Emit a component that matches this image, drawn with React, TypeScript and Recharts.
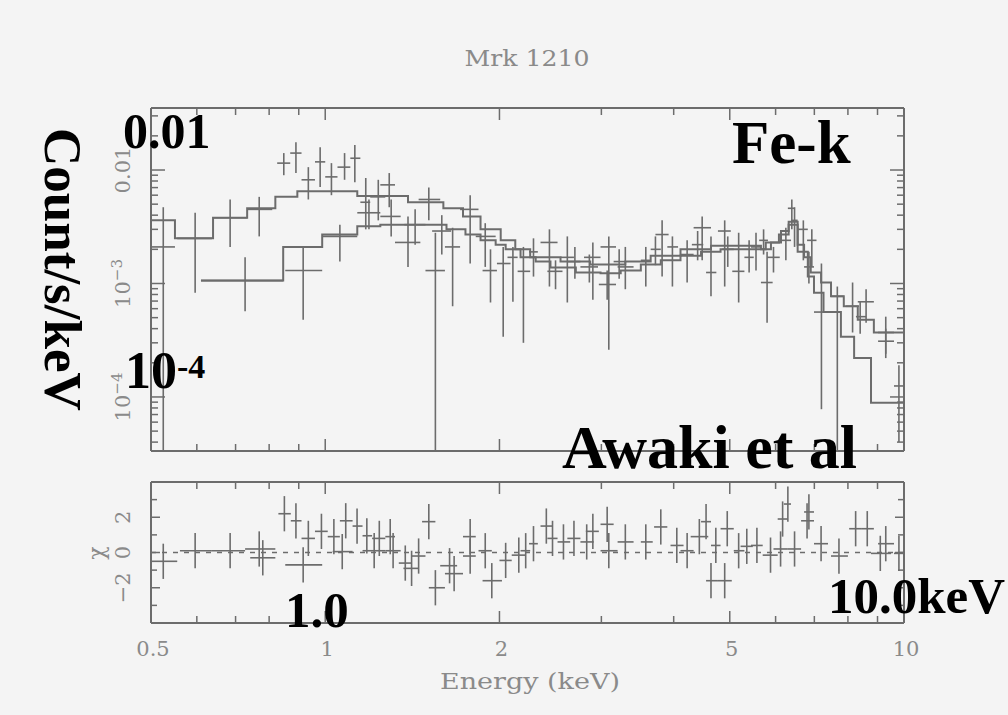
import React from 'react';
import { ComposedChart, Line, Scatter, ErrorBar, XAxis, YAxis, ReferenceLine } from 'recharts';

const INK = '#6c6c6c';
const TEXT = '#8a8a8a';
const PAPER = '#f4f4f4';

// energy axis (keV, log)
const energyTicks = [0.5, 0.6, 0.7, 0.8, 0.9, 1, 2, 3, 4, 5, 6, 7, 8, 9, 10];
const energyLabels = ['0.5', '1', '2', '5', '10'];

// count rate axis (counts/s/keV, log)
const rateTicks = [
  4e-5, 5e-5, 6e-5, 7e-5, 8e-5, 9e-5,
  1e-4, 2e-4, 3e-4, 4e-4, 5e-4, 6e-4, 7e-4, 8e-4, 9e-4,
  1e-3, 2e-3, 3e-3, 4e-3, 5e-3, 6e-3, 7e-3, 8e-3, 9e-3,
  0.01, 0.02, 0.03,
];
const rateDecades = [1e-4, 1e-3, 0.01];

// residual axis
const chiTicks = [-3, -2, -1, 0, 1, 2, 3];
const chiLabels = [-2, 0, 2];
const CHI_ERR = 1;

// spectrum A: bin centre / edges (keV), rate and its error range
const aE = [0.525, 0.596, 0.685, 0.769, 0.848, 0.89, 0.935, 0.98, 1.025, 1.08, 1.125, 1.175, 1.235, 1.29, 1.39, 1.51, 1.55, 1.66, 1.78, 1.93, 2.2, 2.44, 2.62, 2.86, 3.07, 3.3, 3.82, 4.22, 4.64, 4.96, 5.18, 5.8, 6.25, 6.47, 6.93, 7.2, 7.67, 8.4, 9.3, 9.8];
const aELo = [0.5, 0.555, 0.64, 0.733, 0.826, 0.87, 0.91, 0.96, 1.0, 1.05, 1.105, 1.15, 1.196, 1.245, 1.32, 1.45, 1.49, 1.61, 1.71, 1.87, 2.15, 2.355, 2.55, 2.76, 2.97, 3.2, 3.72, 4.11, 4.55, 4.85, 5.05, 5.66, 6.13, 6.38, 6.8, 6.99, 7.48, 8.26, 9.02, 9.61];
const aEHi = [0.55, 0.637, 0.733, 0.81, 0.87, 0.91, 0.96, 1.0, 1.05, 1.105, 1.15, 1.196, 1.27, 1.32, 1.46, 1.58, 1.61, 1.71, 1.84, 1.98, 2.26, 2.52, 2.69, 2.96, 3.18, 3.41, 3.92, 4.33, 4.74, 5.08, 5.3, 5.93, 6.38, 6.55, 7.06, 7.39, 7.87, 8.6, 9.61, 10];
const aRate = [0.0021, 0.0025, 0.0038, 0.0045, 0.0115, 0.0141, 0.0082, 0.0118, 0.0087, 0.0106, 0.0127, 0.0052, 0.0058, 0.0074, 0.0023, 0.0055, 0.0013, 0.0021, 0.0045, 0.0013, 0.00128, 0.0023, 0.0017, 0.0014, 0.00098, 0.0014, 0.0027, 0.0018, 0.00125, 0.002, 0.00128, 0.00102, 0.0024, 0.0036, 0.0024, 0.00056, 0.00077, 0.00051, 0.00031, 0.000125];
const aRateLo = [3.4e-5, 0.00083, 0.0021, 0.0026, 0.009, 0.0094, 0.0055, 0.0071, 0.006, 0.0082, 0.0078, 0.003, 0.0036, 0.0047, 0.0014, 0.0036, 3.4e-5, 0.00063, 0.0015, 0.00068, 0.0003, 0.00094, 0.00068, 0.00102, 0.00072, 0.00089, 0.00115, 0.00102, 0.00077, 0.0014, 0.00068, 0.00045, 0.0016, 0.0021, 0.0014, 0.000078, 3.4e-5, 0.00036, 0.00024, 0.00004];
const aRateHi = [0.0047, 0.0042, 0.0055, 0.0058, 0.0141, 0.0176, 0.0106, 0.0159, 0.0115, 0.0141, 0.0166, 0.0085, 0.0082, 0.0094, 0.0039, 0.007, 0.0028, 0.0031, 0.006, 0.002, 0.0021, 0.003, 0.0026, 0.0018, 0.0013, 0.0021, 0.0036, 0.0024, 0.0026, 0.0026, 0.0028, 0.0019, 0.0031, 0.0047, 0.003, 0.0015, 0.00094, 0.0007, 0.0004, 0.00019];

// spectrum B
const bE = [0.727, 0.916, 1.06, 1.19, 1.3, 1.43, 1.59, 1.89, 2.03, 2.11, 2.29, 2.5, 2.7, 2.9, 3.09, 3.22, 3.58, 3.72, 3.98, 4.4, 4.48, 4.9, 5.4, 5.55, 5.72, 5.95, 6.4, 6.7, 6.85, 8.15, 8.6, 9.3];
const bELo = [0.61, 0.853, 0.99, 1.136, 1.245, 1.37, 1.53, 1.82, 1.98, 2.065, 2.25, 2.42, 2.62, 2.8, 2.99, 3.15, 3.51, 3.65, 3.9, 4.3, 4.33, 4.77, 5.3, 5.44, 5.62, 5.8, 6.3, 6.55, 6.72, 7.94, 8.32, 9.02];
const bEHi = [0.846, 0.988, 1.136, 1.245, 1.35, 1.49, 1.65, 1.97, 2.09, 2.15, 2.33, 2.57, 2.76, 2.99, 3.18, 3.3, 3.65, 3.8, 4.07, 4.5, 4.64, 5.02, 5.5, 5.66, 5.82, 6.1, 6.47, 6.82, 6.99, 8.36, 8.87, 9.61];
const bRate = [0.00106, 0.0013, 0.0026, 0.0042, 0.0039, 0.0033, 0.0029, 0.0026, 0.0015, 0.0017, 0.0019, 0.00128, 0.00156, 0.0017, 0.0021, 0.00156, 0.0016, 0.002, 0.0021, 0.0022, 0.0031, 0.0029, 0.0017, 0.0021, 0.0024, 0.0017, 0.0046, 0.003, 0.0014, 0.00063, 0.00069, 0.00037];
const bRateLo = [0.00057, 0.00048, 0.00156, 0.003, 0.0026, 0.0022, 0.0018, 0.0014, 0.00034, 0.00069, 0.00115, 0.00089, 0.0011, 0.00072, 0.00026, 0.0011, 0.00094, 0.00145, 0.00094, 0.0016, 0.0016, 0.00094, 0.00125, 0.0013, 0.0018, 0.00125, 0.003, 0.0016, 0.001, 0.00037, 0.00045, 0.00022];
const bRateHi = [0.0017, 0.0021, 0.0033, 0.0055, 0.0055, 0.0045, 0.004, 0.0034, 0.0021, 0.0021, 0.0025, 0.0016, 0.0021, 0.0023, 0.0026, 0.002, 0.0021, 0.0026, 0.0026, 0.0029, 0.0039, 0.0036, 0.0024, 0.0028, 0.003, 0.0021, 0.0055, 0.0036, 0.0019, 0.00102, 0.00089, 0.00051];

// folded models (step start energy, level); last entry closes the final bin
const modelAE = [0.5, 0.55, 0.64, 0.733, 0.82, 0.895, 1.136, 1.39, 1.6, 1.73, 1.855, 2.01, 2.13, 2.26, 2.55, 2.87, 3.3, 3.65, 4.11, 4.64, 5.33, 5.66, 5.89, 6.13, 6.32, 6.55, 6.82, 6.99, 7.26, 7.78, 8.2, 8.77, 10];
const modelA = [0.0036, 0.0025, 0.0038, 0.0046, 0.0058, 0.0065, 0.0059, 0.0052, 0.0046, 0.0039, 0.003, 0.0024, 0.002, 0.0017, 0.00156, 0.00147, 0.00156, 0.00176, 0.002, 0.00215, 0.00215, 0.002, 0.0023, 0.0029, 0.0035, 0.0019, 0.00115, 0.00083, 0.00056, 0.00034, 0.00022, 0.000089, 0.000089];
const modelBE = [0.61, 0.846, 0.988, 1.136, 1.245, 1.62, 1.747, 1.855, 1.97, 2.05, 2.175, 2.31, 2.45, 2.71, 2.99, 3.24, 3.51, 3.8, 4.11, 4.46, 4.82, 5.33, 5.77, 6.08, 6.32, 6.55, 6.72, 6.9, 7.19, 7.48, 7.87, 8.32, 8.87, 10];
const modelB = [0.00106, 0.0021, 0.0027, 0.0032, 0.0033, 0.003, 0.0027, 0.0024, 0.0022, 0.002, 0.0017, 0.00156, 0.00138, 0.00125, 0.00123, 0.0013, 0.00147, 0.0016, 0.00176, 0.0019, 0.002, 0.002, 0.0023, 0.0027, 0.0033, 0.0022, 0.0017, 0.00125, 0.00102, 0.00077, 0.00063, 0.00048, 0.00037, 0.00037];

// residuals (chi)
const resE = [0.525, 0.596, 0.685, 0.769, 0.78, 0.85, 0.89, 0.916, 0.935, 0.985, 1.035, 1.07, 1.085, 1.135, 1.18, 1.215, 1.24, 1.295, 1.31, 1.375, 1.41, 1.45, 1.51, 1.55, 1.64, 1.67, 1.78, 1.78, 1.89, 1.94, 2.05, 2.16, 2.22, 2.29, 2.41, 2.47, 2.58, 2.69, 2.83, 2.9, 3.07, 3.09, 3.3, 3.58, 3.8, 4.05, 4.22, 4.43, 4.55, 4.64, 4.73, 4.9, 4.95, 5.18, 5.35, 5.57, 5.88, 6.12, 6.17, 6.3, 6.47, 6.8, 6.85, 7.19, 7.72, 8.25, 8.64, 9.1, 9.3, 9.8];
const resLo = [0.502, 0.561, 0.637, 0.727, 0.742, 0.83, 0.872, 0.853, 0.91, 0.96, 1.01, 1.03, 1.06, 1.115, 1.16, 1.16, 1.205, 1.27, 1.27, 1.34, 1.365, 1.41, 1.47, 1.51, 1.58, 1.61, 1.73, 1.73, 1.84, 1.87, 2.0, 2.1, 2.175, 2.25, 2.355, 2.42, 2.52, 2.62, 2.76, 2.82, 2.99, 2.99, 3.2, 3.51, 3.7, 3.95, 4.11, 4.28, 4.46, 4.55, 4.64, 4.77, 4.82, 5.08, 5.22, 5.44, 5.7, 5.95, 6.05, 6.2, 6.3, 6.64, 6.72, 6.99, 7.48, 8.04, 8.43, 8.77, 9.02, 9.61];
const resHi = [0.555, 0.637, 0.727, 0.82, 0.82, 0.872, 0.91, 0.988, 0.96, 1.01, 1.06, 1.115, 1.115, 1.16, 1.205, 1.27, 1.27, 1.32, 1.35, 1.41, 1.45, 1.49, 1.55, 1.61, 1.69, 1.73, 1.82, 1.82, 1.94, 2.02, 2.1, 2.22, 2.26, 2.33, 2.47, 2.52, 2.65, 2.76, 2.91, 2.97, 3.15, 3.2, 3.41, 3.68, 3.9, 4.16, 4.33, 4.59, 4.64, 4.77, 4.82, 5.04, 5.08, 5.3, 5.48, 5.7, 6.05, 6.3, 6.3, 6.38, 6.64, 6.99, 6.99, 7.39, 8.0, 8.43, 8.87, 9.5, 9.61, 10];
const resChi = [-0.5, 0.1, 0.1, 0.2, -0.3, 2.2, 1.8, -0.7, 0.8, 1.2, 0.9, 0.05, 1.8, 1.5, 0.95, 0.1, 0.8, 0.9, 0.1, -0.6, -0.9, -0.2, 1.75, -2.0, -0.75, -1.2, -0.2, 0.9, 0.1, -1.6, -0.45, -0.15, 0.1, 0.5, 1.5, 0.8, 0.6, 0.8, 0.6, 1.2, 1.6, 0.1, 0.6, 0.6, 1.45, 0.4, 0.1, 0.9, 1.75, -1.6, 0.4, -1.6, 1.35, 0.1, 0.35, 0.4, -0.15, 0.2, 1.9, 2.75, 0.2, 1.8, 2.3, 0.5, -0.2, 1.35, 1.35, -0.05, 0.5, -0.05];

const toRows = (e: number[], lo: number[], hi: number[], v: number[], vLo: number[], vHi: number[]) =>
  e.map((x, i) => ({ e: x, v: v[i], ex: [x - lo[i], hi[i] - x], ey: [v[i] - vLo[i], vHi[i] - v[i]] }));

const rowsA = toRows(aE, aELo, aEHi, aRate, aRateLo, aRateHi);
const rowsB = toRows(bE, bELo, bEHi, bRate, bRateLo, bRateHi);
const rowsModelA = modelAE.map((e, i) => ({ e, v: modelA[i] }));
const rowsModelB = modelBE.map((e, i) => ({ e, v: modelB[i] }));
const rowsRes = resE.map((e, i) => ({ e, v: resChi[i], ex: [e - resLo[i], resHi[i] - e], ey: CHI_ERR }));

type Side = 'top' | 'bottom' | 'left' | 'right';

const mark = (side: Side, len: number, x: number, y: number) => {
  const p = { stroke: INK, strokeWidth: 1.5 };
  if (side === 'bottom') return <line x1={x} y1={y} x2={x} y2={y - len} {...p} />;
  if (side === 'top') return <line x1={x} y1={y} x2={x} y2={y + len} {...p} />;
  if (side === 'left') return <line x1={x} y1={y} x2={x + len} y2={y} {...p} />;
  return <line x1={x} y1={y} x2={x - len} y2={y} {...p} />;
};

const labelFont = { fontFamily: 'DejaVu Serif', fontSize: 21, fill: TEXT };

const energyTick = (side: Side, withLabels: boolean) => (props: any) => {
  const { x, y, payload } = props;
  const label = String(payload.value);
  const major = energyLabels.includes(label);
  return (
    <g>
      {mark(side, major ? 12 : 7, x, y)}
      {withLabels && major && (
        <text x={x + 2} y={y + 33} textAnchor="middle" {...labelFont}>{label}</text>
      )}
    </g>
  );
};

const rateTick = (side: Side, withLabels: boolean) => (props: any) => {
  const { x, y, payload } = props;
  const v = payload.value;
  const major = rateDecades.includes(v);
  const exp = v === 1e-3 ? '3' : '4';
  return (
    <g>
      {mark(side, major ? 14 : 7, x, y)}
      {withLabels && major && (
        <text transform={`translate(${x - 21},${y}) rotate(-90)`} textAnchor="middle" {...labelFont}>
          {v === 0.01 ? '0.01' : <>10<tspan dy={-8} fontSize={15}>{'\u2212' + exp}</tspan></>}
        </text>
      )}
    </g>
  );
};

const chiTick = (side: Side, withLabels: boolean) => (props: any) => {
  const { x, y, payload } = props;
  const v = payload.value;
  const major = chiLabels.includes(v);
  return (
    <g>
      {mark(side, major ? 9 : 6, x, y)}
      {withLabels && major && (
        <text transform={`translate(${x - 21},${y}) rotate(-90)`} textAnchor="middle" {...labelFont}>
          {v < 0 ? '\u2212' + Math.abs(v) : String(v)}
        </text>
      )}
    </g>
  );
};

const noMark = () => <g />;

const axisCommon = {
  allowDataOverflow: true,
  axisLine: { stroke: INK, strokeWidth: 2 },
  tickLine: false,
  tickSize: 0,
  tickMargin: 0,
  interval: 0 as const,
};

const bars = (
  <>
    <ErrorBar dataKey="ex" direction="x" width={0} stroke={INK} strokeWidth={1.6} />
    <ErrorBar dataKey="ey" direction="y" width={0} stroke={INK} strokeWidth={1.6} />
  </>
);

const bold = { fontFamily: 'Liberation Serif', fontWeight: 700, fill: '#000' } as const;

export default function App() {
  return (
    <div style={{ position: 'absolute', left: 0, top: 0, width: 1008, height: 715, background: PAPER, overflow: 'hidden' }}>
      <div style={{ position: 'absolute', left: 0, top: 0 }}>
        <ComposedChart width={1008} height={465} margin={{ top: 107, right: 103, bottom: 13, left: 150 }}>
          <XAxis xAxisId="b" dataKey="e" type="number" scale="log" domain={[0.5, 10]} ticks={energyTicks}
            height={1} orientation="bottom" tick={energyTick('bottom', false)} {...axisCommon} />
          <XAxis xAxisId="t" dataKey="e" type="number" scale="log" domain={[0.5, 10]} ticks={energyTicks}
            height={1} orientation="top" tick={energyTick('top', false)} {...axisCommon} />
          <YAxis yAxisId="l" dataKey="v" type="number" scale="log" domain={[3.34e-5, 0.0352]} ticks={rateTicks}
            width={1} orientation="left" tick={rateTick('left', true)} {...axisCommon} />
          <YAxis yAxisId="r" dataKey="v" type="number" scale="log" domain={[3.34e-5, 0.0352]} ticks={rateTicks}
            width={1} orientation="right" tick={rateTick('right', false)} {...axisCommon} />
          <Line data={rowsModelA} xAxisId="b" yAxisId="l" dataKey="v" type="stepAfter" dot={false}
            stroke={INK} strokeWidth={2} isAnimationActive={false} />
          <Line data={rowsModelB} xAxisId="b" yAxisId="l" dataKey="v" type="stepAfter" dot={false}
            stroke={INK} strokeWidth={2} isAnimationActive={false} />
          <Scatter data={rowsA} xAxisId="b" yAxisId="l" shape={noMark} isAnimationActive={false}>{bars}</Scatter>
          <Scatter data={rowsB} xAxisId="b" yAxisId="l" shape={noMark} isAnimationActive={false}>{bars}</Scatter>
        </ComposedChart>
      </div>

      <div style={{ position: 'absolute', left: 0, top: 465 }}>
        <ComposedChart width={1008} height={250} margin={{ top: 16, right: 103, bottom: 91, left: 150 }}>
          <XAxis xAxisId="b" dataKey="e" type="number" scale="log" domain={[0.5, 10]} ticks={energyTicks}
            height={1} orientation="bottom" tick={energyTick('bottom', true)} {...axisCommon} />
          <XAxis xAxisId="t" dataKey="e" type="number" scale="log" domain={[0.5, 10]} ticks={energyTicks}
            height={1} orientation="top" tick={energyTick('top', false)} {...axisCommon} />
          <YAxis yAxisId="l" dataKey="v" type="number" domain={[-4, 4]} ticks={chiTicks}
            width={1} orientation="left" tick={chiTick('left', true)} {...axisCommon} />
          <YAxis yAxisId="r" dataKey="v" type="number" domain={[-4, 4]} ticks={chiTicks}
            width={1} orientation="right" tick={chiTick('right', false)} {...axisCommon} />
          <ReferenceLine xAxisId="b" yAxisId="l" y={0} stroke={INK} strokeWidth={1.5} strokeDasharray="5 6" />
          <Scatter data={rowsRes} xAxisId="b" yAxisId="l" shape={noMark} isAnimationActive={false}>{bars}</Scatter>
        </ComposedChart>
      </div>

      <svg width={1008} height={715} style={{ position: 'absolute', left: 0, top: 0, pointerEvents: 'none' }}>
        <text x={527} y={66} textAnchor="middle" fontFamily="DejaVu Serif" fontSize={22} fill={TEXT}
          textLength={125} lengthAdjust="spacingAndGlyphs">Mrk 1210</text>
        <text x={530} y={689} textAnchor="middle" fontFamily="DejaVu Serif" fontSize={22} fill={TEXT}
          textLength={180} lengthAdjust="spacingAndGlyphs">Energy (keV)</text>
        <text transform="translate(104,553) rotate(-90)" textAnchor="middle" fontFamily="DejaVu Serif" fontSize={22} fill={TEXT}>χ</text>

        <text transform="translate(45,128) rotate(90)" fontSize={53} {...bold}>Count/s/keV</text>
        <text x={123} y={148} fontSize={50} {...bold}>0.01</text>
        <text x={732} y={163} fontSize={61} {...bold}>Fe-k</text>
        <text x={125} y={388} fontSize={52} {...bold}>10<tspan dy={-10} fontSize={34}>-4</tspan></text>
        <text x={562} y={468} fontSize={62} {...bold}>Awaki et al</text>
        <text x={285} y={627} fontSize={51} {...bold}>1.0</text>
        <text x={828} y={613} fontSize={51} {...bold}>10.0keV</text>
      </svg>
    </div>
  );
}
